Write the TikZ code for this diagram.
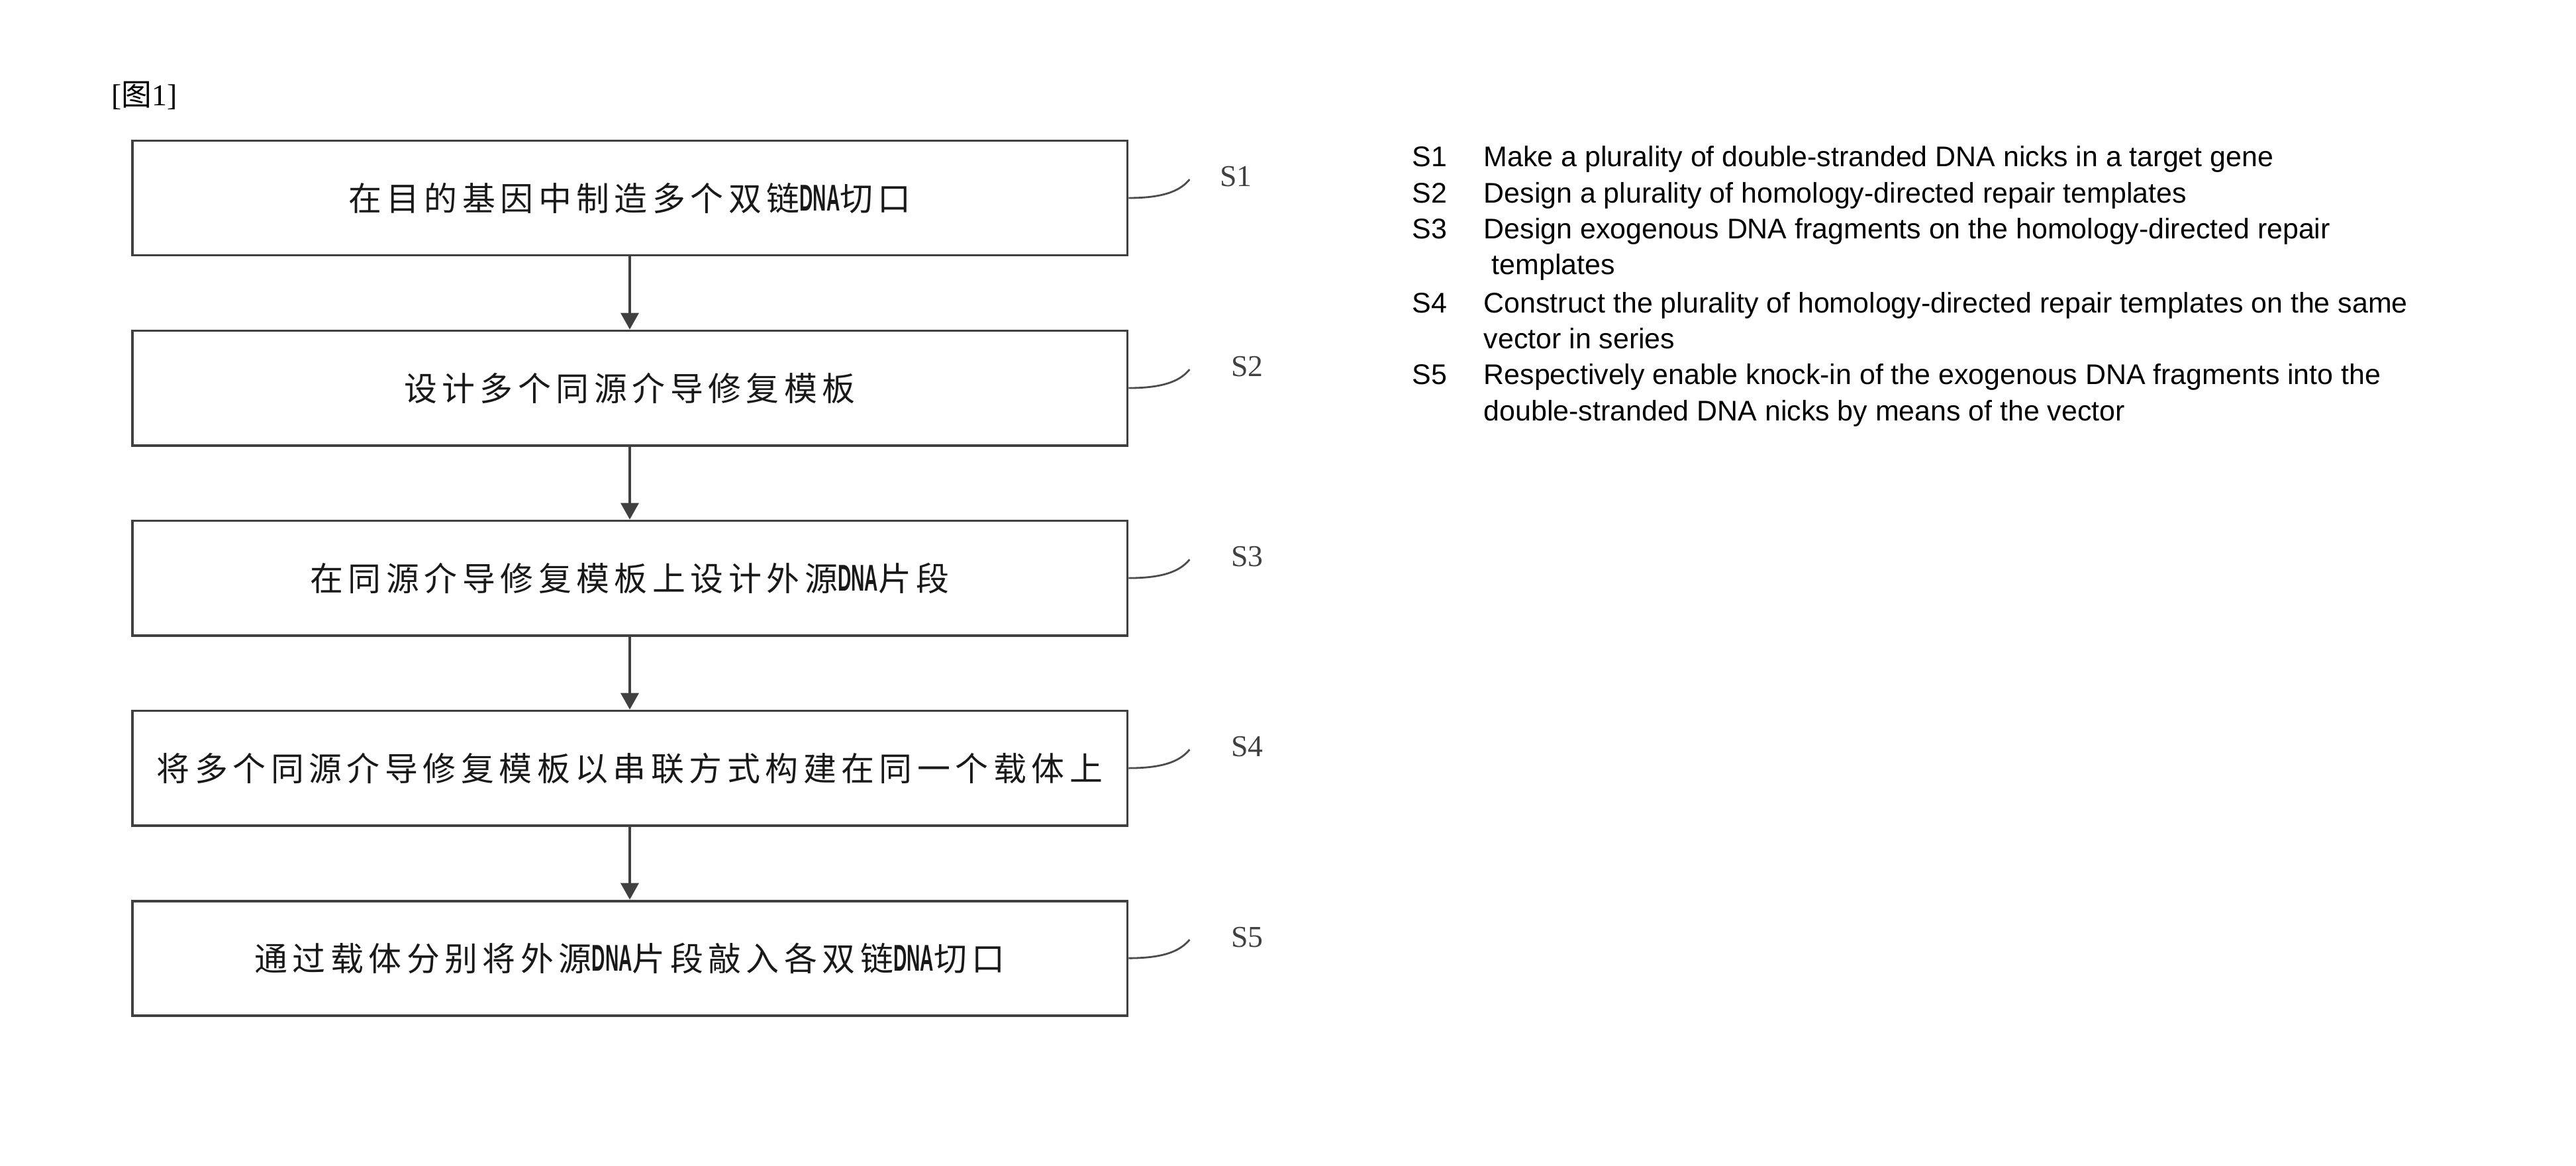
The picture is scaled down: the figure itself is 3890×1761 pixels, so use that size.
\documentclass[tikz,border=0pt]{standalone}
\usepackage{fontspec}
\usepackage{tikz}
\setmainfont{Liberation Serif}
\newfontfamily\cjk[LetterSpace=15]{Noto Sans CJK SC}
\newfontfamily\cjkplain{Noto Sans CJK SC}
\newfontfamily\arial{Liberation Sans}
\newfontfamily\dnafont[FakeStretch=0.5]{Liberation Sans}
\newcommand{\dna}{{\dnafont\bfseries\fontsize{16}{17}\selectfont DNA}}
\usetikzlibrary{arrows.meta, positioning}

\begin{document}
\begin{tikzpicture}[x=0.01cm, y=-0.01cm,
    stepbox/.style={rectangle, draw=black!75, line width=1.1pt, minimum width=15.02cm, minimum height=1.73cm, inner sep=0pt, font=\cjk\fontsize{14.2}{17}\selectfont, text=black!90},
    flow/.style={draw=black!75, line width=1.1pt, -{Triangle[width=0.27cm, length=0.25cm]}},
    leader/.style={draw=black!70, line width=0.8pt},
    steplabel/.style={font=\fontsize{13}{15}\selectfont, text=black!75, inner sep=0pt},
    legend/.style={font=\arial\fontsize{12.2}{15.4}\selectfont, inner sep=0pt}
]
    \useasboundingbox (0,0) rectangle (3890,1761);

    % Figure tag
    \node[font=\fontsize{13}{15}\selectfont, inner sep=0pt] (tag) at (218,144) {[{\cjkplain 图}1]};

    % Steps
    \node[stepbox] (b1) at (951,299) {在目的基因中制造多个双链\dna 切口};
    \node[stepbox, below=1.10cm of b1] (b2) {设计多个同源介导修复模板};
    \node[stepbox, below=1.10cm of b2] (b3) {在同源介导修复模板上设计外源\dna 片段};
    \node[stepbox, below=1.10cm of b3] (b4) {将多个同源介导修复模板以串联方式构建在同一个载体上};
    \node[stepbox, below=1.10cm of b4] (b5) {通过载体分别将外源\dna 片段敲入各双链\dna 切口};

    % Arrows
    \draw[flow] (b1) -- (b2);
    \draw[flow] (b2) -- (b3);
    \draw[flow] (b3) -- (b4);
    \draw[flow] (b4) -- (b5);

    % Step labels
    \coordinate[above right=0.28cm and 0.92cm of b1.east] (l1);
    \coordinate[above right=0.28cm and 0.92cm of b2.east] (l2);
    \coordinate[above right=0.28cm and 0.92cm of b3.east] (l3);
    \coordinate[above right=0.28cm and 0.92cm of b4.east] (l4);
    \coordinate[above right=0.28cm and 0.92cm of b5.east] (l5);
    \draw[leader] (b1.east) .. controls +(0.6cm,0) and +(-0.12cm,-0.14cm) .. (l1);
    \draw[leader] (b2.east) .. controls +(0.6cm,0) and +(-0.12cm,-0.14cm) .. (l2);
    \draw[leader] (b3.east) .. controls +(0.6cm,0) and +(-0.12cm,-0.14cm) .. (l3);
    \draw[leader] (b4.east) .. controls +(0.6cm,0) and +(-0.12cm,-0.14cm) .. (l4);
    \draw[leader] (b5.east) .. controls +(0.6cm,0) and +(-0.12cm,-0.14cm) .. (l5);
    \node[steplabel, right=0.45cm of l1, yshift=0.04cm] (s1) {S1};
    \node[steplabel, right=0.62cm of l2, yshift=0.04cm] (s2) {S2};
    \node[steplabel, right=0.62cm of l3, yshift=0.04cm] (s3) {S3};
    \node[steplabel, right=0.62cm of l4, yshift=0.04cm] (s4) {S4};
    \node[steplabel, right=0.62cm of l5, yshift=0.04cm] (s5) {S5};

    % Legend
    \node[legend, anchor=base west] (legend) at (2132,252) {%
        \begin{tabular}[t]{@{}p{1.08cm}@{}l@{}}
        S1 & Make a plurality of double-stranded DNA nicks in a target gene\\
        S2 & Design a plurality of homology-directed repair templates\\
        S3 & Design exogenous DNA fragments on the homology-directed repair\\
           & \ templates\\[0.04cm]
        S4 & Construct the plurality of homology-directed repair templates on the same\\
           & vector in series\\
        S5 & Respectively enable knock-in of the exogenous DNA fragments into the\\
           & double-stranded DNA nicks by means of the vector
        \end{tabular}};
\end{tikzpicture}
\end{document}
